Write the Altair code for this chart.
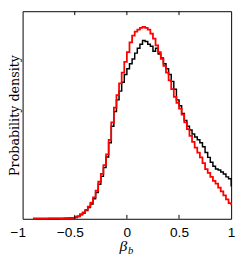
import altair as alt
import pandas as pd

# bin edges of the histograms (width 0.025), last entry closes the final bin
bin_edges = [round(-0.9 + 0.025 * i, 3) for i in range(77)]

red_density = [0.2, 0.2, 0.2, 0.2, 0.2, 0.2, 0.3, 0.3, 0.3, 0.3,
               0.4, 0.4, 0.5, 0.6, 0.8, 1.0, 1.6, 2.8, 4.8, 6.5,
               9.2, 12.5, 16.5, 22, 29, 38, 46, 55, 66, 81,
               99, 114, 127, 139, 150, 161, 171, 181, 188, 192,
               194, 196, 197, 196, 194, 190, 185, 178, 171, 164,
               157, 150, 142, 133, 125, 119, 113, 107, 99, 92,
               85, 79, 73, 68, 63, 57, 51, 47, 43, 39,
               36, 32, 28, 24, 20, 16, 14]

black_density = [0.2, 0.2, 0.2, 0.2, 0.2, 0.2, 0.3, 0.3, 0.3, 0.3,
                 0.4, 0.4, 0.5, 0.6, 0.8, 1.0, 1.4, 2.4, 4.2, 5.8,
                 8.4, 11.5, 15.2, 20.5, 27, 35.5, 43.5, 52.5, 63.5, 78,
                 95, 110, 122, 131, 140, 148, 154, 159, 164, 170,
                 175, 179, 183, 182, 179, 177, 172, 175, 169, 165,
                 159, 154, 148, 141, 133, 122, 116, 108, 101, 95,
                 91, 87, 84, 81, 78, 74, 68, 63, 58, 54,
                 51, 50, 48, 46, 43, 41, 33]

x_tick_labels = [-1, -0.5, 0, 0.5, 1]
inner_ticks = [-0.5, 0, 0.5]
y_title = "Probability density"
x_title_main = "β"
x_title_sub = "b"

df_black = pd.DataFrame({"beta": bin_edges, "density": black_density})
df_red = pd.DataFrame({"beta": bin_edges, "density": red_density})
df_ticks = pd.DataFrame({"beta": inner_ticks})

xscale = alt.Scale(domain=[-1, 1], nice=False, zero=False)
yscale = alt.Scale(domain=[0, 213], nice=False, zero=True)

x_axis = alt.Axis(
    values=x_tick_labels, format="~g", title=None, ticks=False, domain=False,
    grid=False, labelFont="Liberation Sans", labelFontSize=14,
    labelColor="black", labelPadding=7, labelFlush=False,
    labelOffset=alt.condition("datum.value < 0", alt.value(-5), alt.value(0)),
)
y_axis = alt.Axis(
    title=y_title, labels=False, ticks=False, domain=False, grid=False,
    titleFont="DejaVu Serif", titleFontSize=13, titleFontWeight="normal",
    titleColor="black", titlePadding=1.5,
)

black_line = alt.Chart(df_black).mark_line(
    interpolate="step-after", color="black", strokeWidth=1.5
).encode(
    x=alt.X("beta:Q", scale=xscale, axis=x_axis),
    y=alt.Y("density:Q", scale=yscale, axis=y_axis),
)

red_line = alt.Chart(df_red).mark_line(
    interpolate="step-after", color="#ff0000", strokeWidth=1.8
).encode(
    x=alt.X("beta:Q", scale=xscale, axis=x_axis),
    y=alt.Y("density:Q", scale=yscale, axis=y_axis),
)

ticks_bottom = alt.Chart(df_ticks).mark_rule(color="black", strokeWidth=1).encode(
    x=alt.X("beta:Q", scale=xscale, axis=x_axis),
    y=alt.value(213), y2=alt.value(209),
)
ticks_top = alt.Chart(df_ticks).mark_rule(color="black", strokeWidth=1).encode(
    x=alt.X("beta:Q", scale=xscale, axis=x_axis),
    y=alt.value(0), y2=alt.value(4),
)

title_main = alt.Chart(pd.DataFrame({"t": [x_title_main]})).mark_text(
    font="Liberation Serif", fontStyle="italic", fontSize=16,
    align="center", baseline="alphabetic", color="black"
).encode(text="t:N", x=alt.value(103.5), y=alt.value(246))

title_sub = alt.Chart(pd.DataFrame({"t": [x_title_sub]})).mark_text(
    font="Liberation Serif", fontStyle="italic", fontSize=11,
    align="center", baseline="alphabetic", color="black"
).encode(text="t:N", x=alt.value(111), y=alt.value(249))

chart = alt.layer(
    black_line, red_line, ticks_bottom, ticks_top, title_main, title_sub
).properties(
    width=214, height=213,
    autosize=alt.AutoSizeParams(type="none"),
    padding={"left": 15, "top": 0, "right": 6, "bottom": 39},
    background="white",
).configure_view(stroke="black", strokeWidth=1)

chart.save("out.html", embed_options={"renderer": "svg", "actions": False})
